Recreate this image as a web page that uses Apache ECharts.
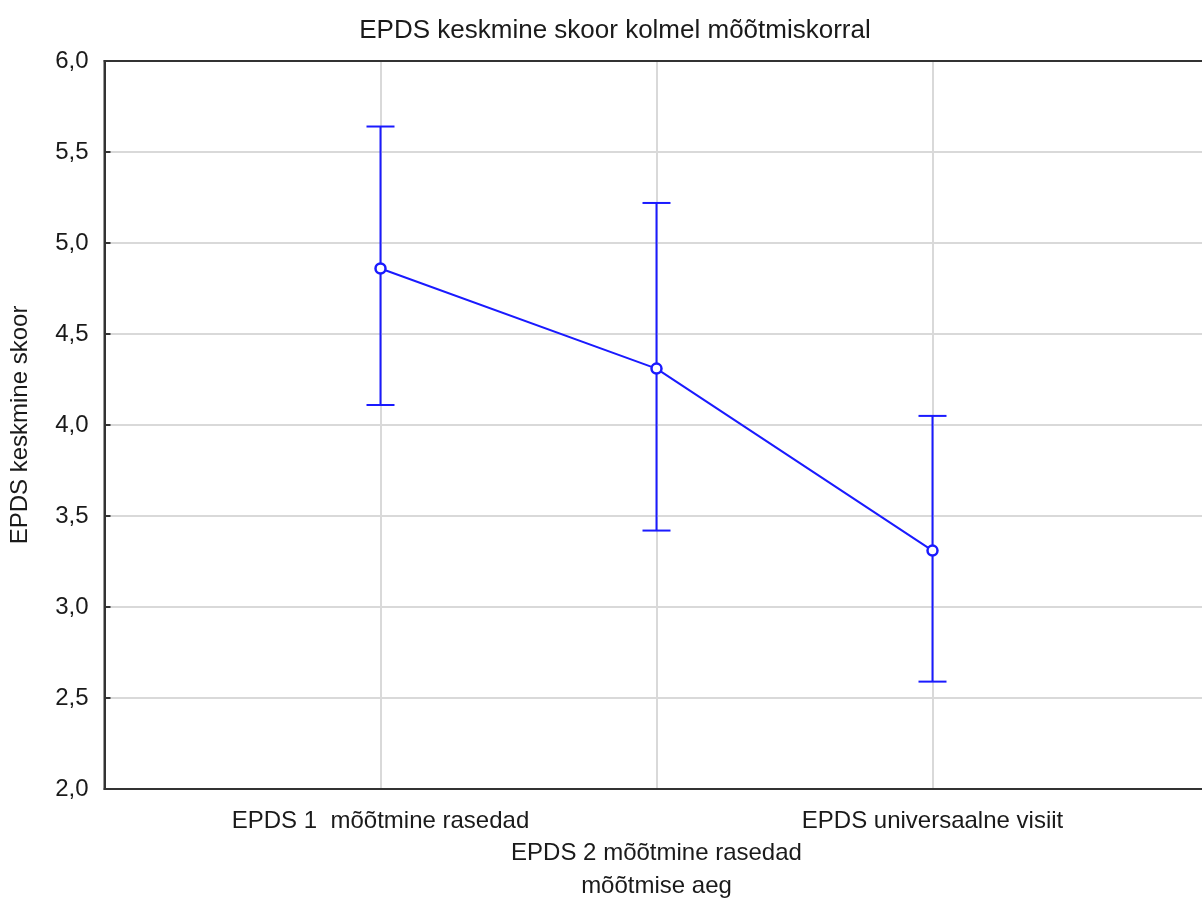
<!DOCTYPE html>
<html>
<head>
<meta charset="utf-8">
<script src="https://cdn.jsdelivr.net/npm/echarts@6/dist/echarts.min.js"></script>
<style>
html,body{margin:0;padding:0;background:#fff;}
#chart{width:1202px;height:907px;}
</style>
</head>
<body>
<div id="chart"></div>
<script>
const categories = ['EPDS 1  mõõtmine rasedad', 'EPDS 2 mõõtmine rasedad', 'EPDS universaalne visiit'];
const means = [4.86, 4.31, 3.31];
const upper = [5.64, 5.22, 4.05];
const lower = [4.11, 3.42, 2.59];
const yTicks = [2.0, 2.5, 3.0, 3.5, 4.0, 4.5, 5.0, 5.5, 6.0];

const FONT = '"Liberation Sans", Arial, sans-serif';
const BLUE = '#1a1aff';
const TXT = '#1a1a1a';

const lineData = means.map((m, i) => [i + 1, m]);
const errData = means.map((m, i) => [i + 1, lower[i], upper[i]]);

const chart = echarts.init(document.getElementById('chart'), null, {renderer: 'canvas'});
chart.setOption({
  backgroundColor: '#fff',
  animation: false,
  textStyle: {fontFamily: FONT},
  title: {
    text: 'EPDS keskmine skoor kolmel mõõtmiskorral',
    left: 610, textAlign: 'center', top: 13,
    textStyle: {fontFamily: FONT, fontSize: 26, fontWeight: 'normal', color: TXT}
  },
  grid: {
    left: 104.5, top: 61, width: 1104, height: 728,
    outerBoundsMode: 'none', containLabel: false,
    show: true, borderColor: '#333', borderWidth: 2, backgroundColor: 'transparent'
  },
  xAxis: [{
    type: 'value', min: 0, max: 4, interval: 1, position: 'bottom',
    name: 'mõõtmise aeg', nameLocation: 'middle', nameGap: 84,
    nameTextStyle: {fontFamily: FONT, fontSize: 24, color: TXT},
    axisLine: {show: true, lineStyle: {color: '#333', width: 2}},
    axisTick: {show: false},
    splitLine: {show: true, lineStyle: {color: '#d9d9d9', width: 2}},
    axisLabel: {
      margin: 16, fontFamily: FONT, fontSize: 24, color: TXT, lineHeight: 32,
      showMinLabel: false, showMaxLabel: false,
      formatter: function (v) {
        const i = Math.round(v) - 1;
        if (i < 0 || i >= categories.length) return '';
        return (i === 1 ? '\n' : '') + categories[i];
      }
    }
  }, {
    type: 'value', min: 0, max: 4, interval: 1, position: 'top',
    axisLine: {show: true, onZero: false, lineStyle: {color: '#333', width: 2}},
    axisTick: {show: false},
    axisLabel: {show: false},
    splitLine: {show: false}
  }],
  yAxis: {
    type: 'value', min: 2, max: 6, interval: 0.5,
    name: 'EPDS keskmine skoor', nameLocation: 'middle', nameGap: 72,
    nameTextStyle: {fontFamily: FONT, fontSize: 24, color: TXT},
    axisLine: {show: true, lineStyle: {color: '#333', width: 2}},
    axisTick: {show: true, inside: true, length: 6, lineStyle: {color: '#333', width: 2}},
    splitLine: {show: true, lineStyle: {color: '#d9d9d9', width: 2}},
    axisLabel: {
      margin: 16, fontFamily: FONT, fontSize: 24, color: TXT,
      formatter: function (v) { return v.toFixed(1).replace('.', ','); }
    }
  },
  series: [
    {
      type: 'custom',
      data: errData,
      z: 3,
      renderItem: function (params, api) {
        const x = api.value(0);
        const lo = api.coord([x, api.value(1)]);
        const hi = api.coord([x, api.value(2)]);
        const hw = 14;
        const style = {stroke: BLUE, lineWidth: 2, fill: null};
        return {
          type: 'group',
          children: [
            {type: 'line', shape: {x1: lo[0], y1: lo[1], x2: hi[0], y2: hi[1]}, style: style},
            {type: 'line', shape: {x1: hi[0] - hw, y1: hi[1], x2: hi[0] + hw, y2: hi[1]}, style: style},
            {type: 'line', shape: {x1: lo[0] - hw, y1: lo[1], x2: lo[0] + hw, y2: lo[1]}, style: style}
          ]
        };
      }
    },
    {
      type: 'line',
      data: lineData,
      z: 4,
      symbol: 'circle', symbolSize: 10,
      lineStyle: {color: BLUE, width: 2},
      itemStyle: {color: '#fff', borderColor: BLUE, borderWidth: 2.5}
    }
  ]
});
</script>
</body>
</html>
